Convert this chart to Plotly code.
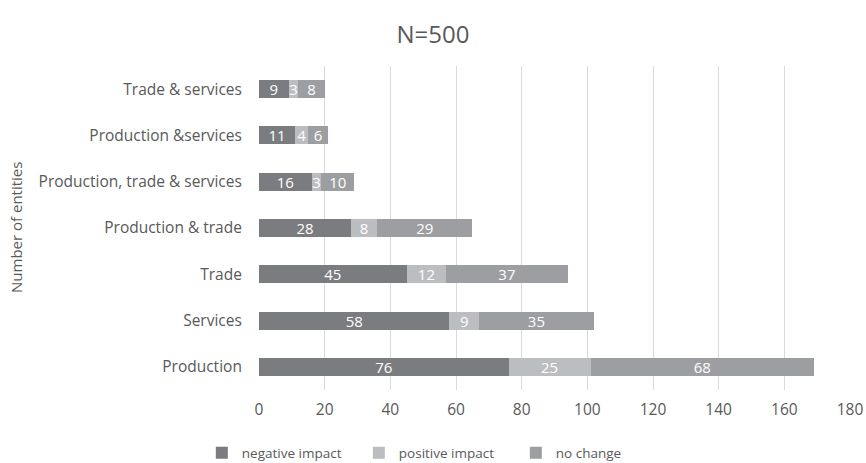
import plotly.graph_objects as go

categories = ["Production", "Services", "Trade", "Production & trade",
              "Production, trade & services", "Production &services", "Trade & services"]
negative_impact = [76, 58, 45, 28, 16, 11, 9]
positive_impact = [25, 9, 12, 8, 3, 4, 3]
no_change = [68, 35, 37, 29, 10, 6, 8]
x_ticks = [0, 20, 40, 60, 80, 100, 120, 140, 160, 180]

series = [
    ("negative impact", negative_impact, "#7b7c80"),
    ("positive impact", positive_impact, "#bcbdc1"),
    ("no change", no_change, "#9d9ea2"),
]

FONT = "Open Sans"
GRAY = "#595959"
W, H = 866, 463
L, R, T, B = 259, 16, 66, 73
PH = H - T - B

fig = go.Figure()
for name, vals, col in series:
    fig.add_trace(go.Bar(
        y=categories, x=vals, name=name, orientation="h",
        marker=dict(color=col, line=dict(width=0)),
        text=[str(v) for v in vals], textposition="inside",
        insidetextanchor="middle", textangle=0,
        textfont=dict(color="white", size=15, family=FONT),
        constraintext="none",
    ))

fig.update_layout(
    barmode="stack",
    bargap=0.61,
    width=W, height=H,
    paper_bgcolor="white", plot_bgcolor="white",
    margin=dict(l=L, r=R, t=T, b=B, autoexpand=False),
    title=dict(text="N=500", x=0.5, xanchor="center", y=1 - 35 / H, yanchor="middle",
               font=dict(size=24, color=GRAY, family=FONT)),
    font=dict(family=FONT, color=GRAY, size=15.5),
    legend=dict(orientation="h", xref="container", x=0.505, xanchor="center",
                y=-(453 - (H - B)) / PH, yanchor="middle",
                font=dict(size=13.5, color=GRAY), traceorder="normal",
                itemwidth=30, entrywidth=112),
    xaxis=dict(range=[0, 180], tickvals=x_ticks, showgrid=True, gridcolor="#d9d9d9",
               zeroline=False, ticks="", tickfont=dict(size=15.5, color=GRAY),
               showline=False, automargin=False, ticklabelstandoff=8,
               ticklabeloverflow="allow"),
    yaxis=dict(showgrid=False, ticks="", tickfont=dict(size=15.5, color=GRAY),
               categoryorder="array", categoryarray=categories, ticksuffix="    ",
               automargin=False),
    annotations=[dict(text="Number of entities", textangle=-90,
                      x=(16 - L) / (W - L - R), xref="paper",
                      y=0.5, yref="paper", xanchor="center", yanchor="middle",
                      showarrow=False, font=dict(size=15, color=GRAY, family=FONT))],
)

fig.write_html(
    "out.html",
    config={"displayModeBar": False},
    post_script="document.body.style.margin='0';document.body.style.overflow='hidden';",
)
